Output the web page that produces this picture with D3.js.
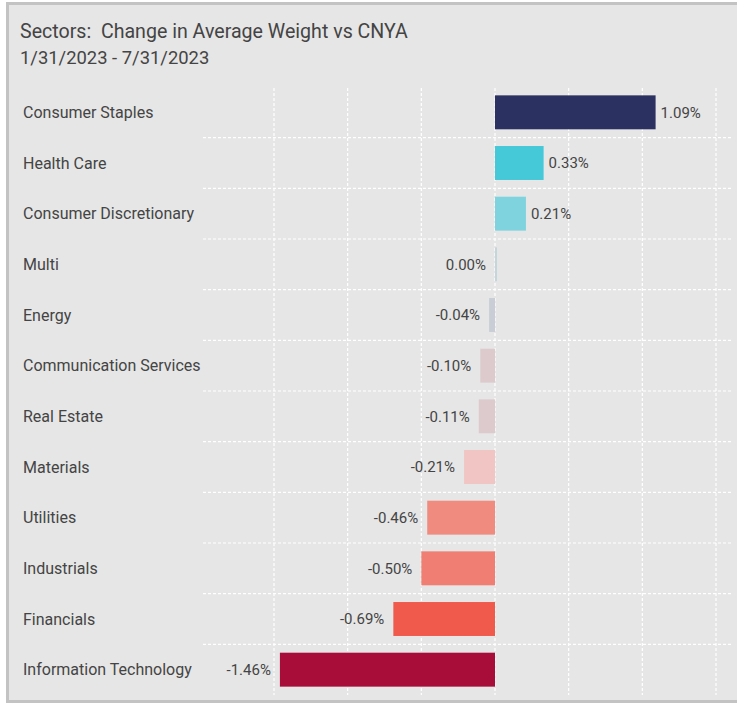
<!DOCTYPE html>
<html><head><meta charset="utf-8">
<script src="https://cdn.jsdelivr.net/npm/d3@7"></script>
<style>body{margin:0;background:#fff} svg{display:block}</style>
</head><body><svg id="c" width="737" height="708"></svg>
<script>
const categories = ["Consumer Staples","Health Care","Consumer Discretionary","Multi","Energy","Communication Services","Real Estate","Materials","Utilities","Industrials","Financials","Information Technology"];
const values = [1.09,0.33,0.21,0.00,-0.04,-0.10,-0.11,-0.21,-0.46,-0.50,-0.69,-1.46];
const colors = ["#2b3160","#45c8d8","#7fd3df","#c4d6dc","#c9ced6","#dccacd","#dccacd","#f0c5c4","#f08b80","#f07e72","#f05a4c","#a70d38"];
const xTicks = [-1.5,-1,-0.5,0,0.5,1,1.5];
const titleLines = ["Sectors:  Change in Average Weight vs CNYA","1/31/2023 - 7/31/2023"];

const svg = d3.select("#c");
const font = "Roboto, 'Open Sans', sans-serif";
svg.append("rect").attr("x",7.5).attr("y",3.5).attr("width",740).attr("height",698)
  .attr("fill","#e6e6e6").attr("stroke","#c3c3c3").attr("stroke-width",3);

svg.selectAll("text.title").data(titleLines).join("text").attr("class","title")
  .attr("x",20).attr("y",(d,i)=>38+i*26).attr("font-family",font)
  .attr("font-size",(d,i)=> i===0 ? 19.6 : 18.4)
  .attr("fill","#444").style("white-space","pre").text(d=>d);

const x = d3.scaleLinear().domain([-1.5,1.5]).range([274,716]);
const y = d3.scaleBand().domain(categories).range([87,695]).paddingInner(0.33).paddingOuter(0.165);
const step = y.step();
const gx0 = 203, gx1 = 732, gy0 = 88, gy1 = 695;

const grid = svg.append("g");
grid.selectAll("line.v").data(xTicks).join("line").attr("class","v")
  .attr("x1",d=>x(d)).attr("x2",d=>x(d)).attr("y1",gy0).attr("y2",gy1)
  .attr("stroke","#fff").attr("stroke-width",1.2).attr("stroke-dasharray","3,2");
grid.selectAll("line.h").data(categories.slice(1)).join("line").attr("class","h")
  .attr("x1",gx0).attr("x2",gx1)
  .attr("y1",d=>y(d)-step*y.paddingInner()/2).attr("y2",d=>y(d)-step*y.paddingInner()/2)
  .attr("stroke","#fff").attr("stroke-width",1.2).attr("stroke-dasharray","3,2");

const data = categories.map((c,i)=>({c, v:values[i], col:colors[i]}));
svg.selectAll("rect.bar").data(data).join("rect").attr("class","bar")
  .attr("x",d=> d.v===0 ? x(0) : Math.min(x(0),x(d.v)))
  .attr("width",d=> Math.max(2, Math.abs(x(d.v)-x(0))))
  .attr("y",d=>y(d.c)).attr("height",y.bandwidth()).attr("fill",d=>d.col);

svg.selectAll("text.cat").data(data).join("text").attr("class","cat")
  .attr("x",23).attr("y",d=>y(d.c)+y.bandwidth()/2).attr("dy","0.35em")
  .attr("font-family",font).attr("font-size",16).attr("fill","#444").text(d=>d.c);

svg.selectAll("text.val").data(data).join("text").attr("class","val")
  .attr("x",d=> d.v>0 ? x(d.v)+5 : Math.min(x(0),x(d.v))-9)
  .attr("text-anchor",d=> d.v>0 ? "start" : "end")
  .attr("y",d=>y(d.c)+y.bandwidth()/2).attr("dy","0.35em")
  .attr("font-family",font).attr("font-size",15).attr("fill","#444")
  .text(d=>d.v.toFixed(2)+"%");
</script></body></html>
